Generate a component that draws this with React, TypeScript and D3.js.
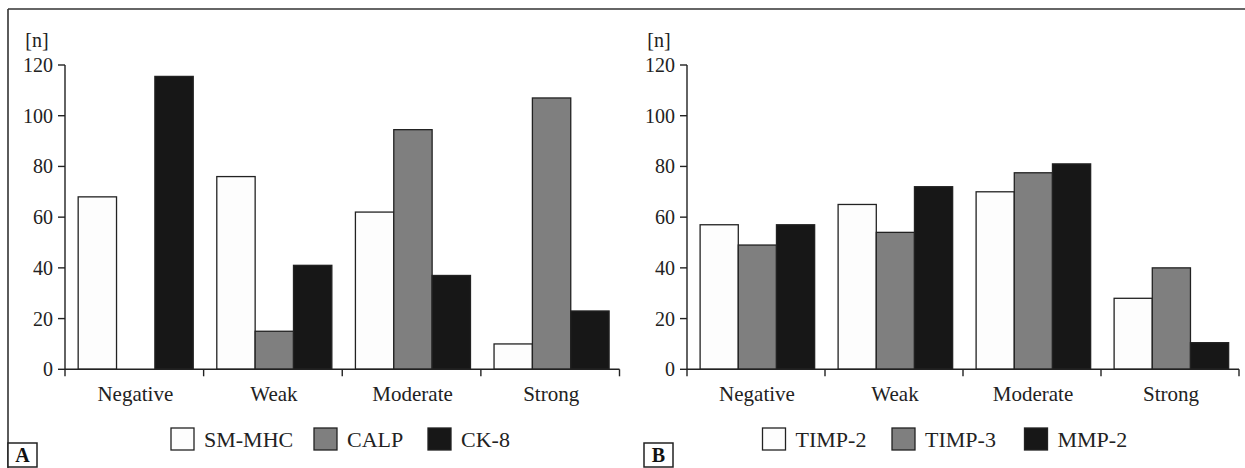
import React from "react";
import * as d3 from "d3";

const categories = ["Negative", "Weak", "Moderate", "Strong"];
const yTicks = [0, 20, 40, 60, 80, 100, 120];

const seriesA = ["SM-MHC", "CALP", "CK-8"];
const smmhc = [68, 76, 62, 10];
const calp = [0, 15, 94.5, 107];
const ck8 = [115.5, 41, 37, 23];

const seriesB = ["TIMP-2", "TIMP-3", "MMP-2"];
const timp2 = [57, 65, 70, 28];
const timp3 = [49, 54, 77.5, 40];
const mmp2 = [57, 72, 81, 10.5];

const fills = ["#fdfdfd", "#7f7f7f", "#171717"];
const FONT = "'Liberation Serif', 'Times New Roman', serif";
const INK = "#222";

type PanelProps = {
  x0: number;
  x1: number;
  names: string[];
  values: number[][];
  legendX: number[];
  letter: string;
  letterX: number;
};

function Panel({ x0, x1, names, values, legendX, letter, letterX }: PanelProps) {
  const y = d3.scaleLinear().domain([0, 120]).range([369.3, 65]);
  const x = d3.scaleBand<string>().domain(categories).range([x0, x1]).padding(0);
  const bw = x.bandwidth();
  const inner = d3
    .scaleBand<string>()
    .domain(names)
    .range([bw * 0.095, bw * 0.925])
    .padding(0);
  const boundaries = [x0, ...categories.map((c) => (x(c) as number) + bw)];
  return (
    <g>
      {categories.map((c, ci) => (
        <g key={c} transform={`translate(${x(c)},0)`}>
          {names.map((n, si) => {
            const v = values[si][ci];
            if (!v) return null;
            return (
              <rect
                key={n}
                x={inner(n)}
                y={y(v)}
                width={inner.bandwidth()}
                height={y(0) - y(v)}
                fill={fills[si]}
                stroke={INK}
                strokeWidth={1.3}
              />
            );
          })}
        </g>
      ))}
      <line x1={x0} x2={x0} y1={y(120)} y2={y(0)} stroke={INK} strokeWidth={1.4} />
      {yTicks.map((t) => (
        <g key={t}>
          <line x1={x0 - 7} x2={x0} y1={y(t)} y2={y(t)} stroke={INK} strokeWidth={1.4} />
          <text
            x={x0 - 12}
            y={y(t)}
            dy="0.35em"
            textAnchor="end"
            fontFamily={FONT}
            fontSize={20}
            fill={INK}
          >
            {t}
          </text>
        </g>
      ))}
      <text x={x0 - 28} y={47} textAnchor="middle" fontFamily={FONT} fontSize={20} fill={INK}>
        [n]
      </text>
      <line x1={x0} x2={x1} y1={y(0)} y2={y(0)} stroke={INK} strokeWidth={1.4} />
      {boundaries.map((b, i) => (
        <line key={i} x1={b} x2={b} y1={y(0)} y2={y(0) + 7} stroke={INK} strokeWidth={1.4} />
      ))}
      {categories.map((c) => (
        <text
          key={c}
          x={(x(c) as number) + bw / 2 + 1}
          y={401}
          textAnchor="middle"
          fontFamily={FONT}
          fontSize={21}
          fill={INK}
        >
          {c}
        </text>
      ))}
      {names.map((n, i) => (
        <g key={n} transform={`translate(${legendX[i]},428)`}>
          <rect x={0} y={0} width={23} height={22} fill={fills[i]} stroke={INK} strokeWidth={1.3} />
          <text x={33} y={19} fontFamily={FONT} fontSize={22} fill={INK}>
            {n}
          </text>
        </g>
      ))}
      <rect x={letterX} y={443} width={29} height={24} fill="#fff" stroke={INK} strokeWidth={1.5} />
      <text
        x={letterX + 14.5}
        y={462}
        textAnchor="middle"
        fontFamily={FONT}
        fontWeight="bold"
        fontSize={20}
        fill="#111"
      >
        {letter}
      </text>
    </g>
  );
}

export default function App() {
  return (
    <svg
      width={1245}
      height={468}
      style={{ position: "absolute", left: 0, top: 0, background: "#fff" }}
    >
      <rect x={0} y={0} width={1245} height={468} fill="#fff" />
      <line x1={8} x2={1245} y1={9} y2={9} stroke="#333" strokeWidth={1.6} />
      <line x1={8} x2={8} y1={9} y2={468} stroke="#333" strokeWidth={1.6} />
      <Panel
        x0={65}
        x1={619.5}
        names={seriesA}
        values={[smmhc, calp, ck8]}
        legendX={[171, 314, 428]}
        letter="A"
        letterX={8}
      />
      <Panel
        x0={687}
        x1={1239}
        names={seriesB}
        values={[timp2, timp3, mmp2]}
        legendX={[762.5, 892, 1024.5]}
        letter="B"
        letterX={644}
      />
    </svg>
  );
}
